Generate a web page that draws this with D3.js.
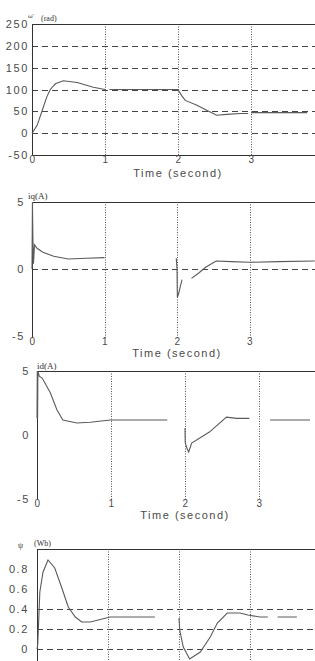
<!DOCTYPE html>
<html>
<head>
<meta charset="utf-8">
<script src="https://cdn.jsdelivr.net/npm/d3@7"></script>
<style>
  body { margin: 0; background: #fff; }
  svg { display: block; }
  text { font-family: "Liberation Sans", Arial, sans-serif; fill: #4a4a4a; }
  .tick-label { font-size: 11px; letter-spacing: 1.6px; }
  .x-tick { font-size: 10px; letter-spacing: 1.6px; }
  .x-title { font-size: 11px; letter-spacing: 1.5px; }
  .unit { font-family: "Liberation Serif", serif; font-size: 9px; fill: #333; }
</style>
</head>
<body>
<div id="canvas"></div>
<script>
// time axis ticks (seconds)
var timeTicks = [0, 1, 2, 3];

// rotor speed  w' (rad)
var omegaT = [0, 0.01, 0.07, 0.14, 0.2, 0.25, 0.32, 0.43, 0.62, 0.84, 1.0, 1.03, 1.06, 2.0, 2.05, 2.1, 2.26, 2.4, 2.53, 2.67, 2.85, 2.96, 2.98, 3.0, 3.77];
var omegaV = [0, 2, 18, 52, 82, 100, 113, 120, 116, 105, 100, null, 100, 100, 86, 75, 64, 52, 41, 43, 45, 45, null, 47, 47];
var omegaTicks = [-50, 0, 50, 100, 150, 200, 250];

// q-axis current iq (A)
var iqT = [0, 0.006, 0.012, 0.02, 0.035, 0.07, 0.15, 0.3, 0.5, 0.75, 1.0, 1.5, 1.99, 2.0, 2.005, 2.02, 2.05, 2.07, 2.13, 2.2, 2.3, 2.4, 2.54, 2.75, 3.0, 3.4, 3.9];
var iqV = [0, 5, 2.5, 0.4, 1.8, 1.55, 1.25, 0.95, 0.75, 0.8, 0.85, null, 0.8, 0, -2.1, -1.9, -1.2, -0.8, null, -0.7, -0.3, 0.15, 0.6, 0.55, 0.5, 0.55, 0.6];
var iqTicks = [-5, 0, 5];

// d-axis current id (A)
var idT = [0, 0.004, 0.008, 0.012, 0.03, 0.07, 0.18, 0.27, 0.35, 0.54, 0.72, 0.99, 1.76, 1.88, 2.0, 2.003, 2.03, 2.05, 2.09, 2.33, 2.56, 2.7, 2.87, 3.0, 3.15, 3.69];
var idV = [1.3, 5, 1.3, 5, 4.6, 4.45, 3.3, 1.95, 1.17, 0.94, 1.0, 1.17, 1.17, null, 0.55, -0.6, -1.1, -1.33, -0.63, 0.23, 1.4, 1.3, 1.3, null, 1.17, 1.17];
var idTicks = [-5, 0, 5];

// flux linkage psi (Wb)
var psiT = [0, 0.01, 0.04, 0.085, 0.155, 0.25, 0.35, 0.44, 0.54, 0.63, 0.75, 1.03, 1.13, 1.66, 1.8, 2.0, 2.01, 2.06, 2.15, 2.3, 2.44, 2.54, 2.68, 2.86, 2.97, 3.14, 3.25, 3.32, 3.39, 3.66];
var psiV = [0, 0.04, 0.57, 0.77, 0.89, 0.81, 0.61, 0.42, 0.32, 0.27, 0.27, 0.32, 0.32, 0.32, null, 0.31, 0.19, 0.02, -0.1, -0.03, 0.12, 0.26, 0.36, 0.36, 0.34, 0.32, 0.32, null, 0.32, 0.32];
var psiTicks = [0, 0.2, 0.4, 0.6, 0.8];
var psiTickLabels = ["0", "0.2", "0.4", "0.6", "0.8"];

var svg = d3.select("#canvas")
  .append("svg")
  .attr("width", 315)
  .attr("height", 661);

function drawPanel(p) {
  var x = d3.scaleLinear().domain([0, 4]).range([p.left, p.left + 4 * p.pxPerSec]);
  var y = d3.scaleLinear().domain(p.yDomain).range(p.yRange);
  var g = svg.append("g");
  var x0 = x(0), x1 = x(4);
  var yTop = y(p.yDomain[1]), yBot = y(p.yDomain[0]);

  // horizontal dashed grid
  g.selectAll(".hgrid")
    .data(p.hGrid)
    .enter().append("line")
    .attr("x1", x0).attr("x2", x1)
    .attr("y1", d => Math.round(y(d)) + 0.5).attr("y2", d => Math.round(y(d)) + 0.5)
    .attr("stroke", "#444").attr("stroke-width", 1)
    .attr("stroke-dasharray", "6,4");

  // vertical dotted grid
  g.selectAll(".vgrid")
    .data([1, 2, 3])
    .enter().append("line")
    .attr("x1", d => Math.round(x(d)) + 0.5).attr("x2", d => Math.round(x(d)) + 0.5)
    .attr("y1", yTop).attr("y2", p.vBottom)
    .attr("stroke", "#555").attr("stroke-width", 1)
    .attr("stroke-dasharray", "1,1.5");

  // frame: top and left (bottom only where drawn)
  g.append("line")
    .attr("x1", x0).attr("x2", x1)
    .attr("y1", Math.round(yTop) + 0.5).attr("y2", Math.round(yTop) + 0.5)
    .attr("stroke", "#333");
  g.append("line")
    .attr("x1", Math.round(x0) + 0.5).attr("x2", Math.round(x0) + 0.5)
    .attr("y1", yTop).attr("y2", p.vBottom)
    .attr("stroke", "#333");
  if (p.bottomLine) {
    g.append("line")
      .attr("x1", x0).attr("x2", x1)
      .attr("y1", Math.round(yBot) + 0.5).attr("y2", Math.round(yBot) + 0.5)
      .attr("stroke", "#333");
  }

  // y tick labels
  g.selectAll(".ylab")
    .data(p.yTicks)
    .enter().append("text")
    .attr("class", "tick-label")
    .attr("x", p.yLabelX)
    .attr("y", d => y(d) + 4)
    .attr("text-anchor", "end")
    .text((d, i) => p.yTickLabels ? p.yTickLabels[i] : d);

  // x tick labels
  if (p.xLabelY) {
    g.selectAll(".xlab")
      .data(timeTicks)
      .enter().append("text")
      .attr("class", "x-tick")
      .attr("x", d => x(d) + 1)
      .attr("y", p.xLabelY)
      .attr("text-anchor", "middle")
      .text(d => d);
    g.append("text")
      .attr("class", "x-title")
      .attr("x", x(2))
      .attr("y", p.xTitleY)
      .attr("text-anchor", "middle")
      .text("Time (second)");
  }

  // quantity label
  p.units.forEach(function (u) {
    g.append("text")
      .attr("class", "unit")
      .attr("x", u.x).attr("y", u.y)
      .style("font-size", u.size + "px")
      .text(u.text);
  });

  // response curve
  var pts = p.t.map((t, i) => ({t: t, v: p.v[i]}));
  var line = d3.line()
    .defined(d => d.v !== null)
    .x(d => x(d.t))
    .y(d => y(d.v));
  g.append("path")
    .datum(pts)
    .attr("fill", "none")
    .attr("stroke", "#5a5a5a")
    .attr("stroke-width", 1.1)
    .attr("d", line);
}

drawPanel({
  t: omegaT, v: omegaV,
  left: 32, pxPerSec: 73,
  yDomain: [-50, 250], yRange: [155, 24],
  yTicks: omegaTicks, hGrid: [0, 50, 100, 150, 200],
  yLabelX: 29, xLabelY: 163, xTitleY: 177,
  vBottom: 155, bottomLine: true,
  units: [{text: "\u03c9'", x: 28, y: 18, size: 7}, {text: "(rad)", x: 41, y: 21, size: 8}]
});

drawPanel({
  t: iqT, v: iqV,
  left: 32, pxPerSec: 72.5,
  yDomain: [-5, 5], yRange: [336, 202],
  yTicks: iqTicks, hGrid: [0],
  yLabelX: 25, xLabelY: 345, xTitleY: 357,
  vBottom: 338, bottomLine: false,
  units: [{text: "iq(A)", x: 28, y: 199, size: 9}]
});

drawPanel({
  t: idT, v: idV,
  left: 37, pxPerSec: 74,
  yDomain: [-5, 5], yRange: [499, 371],
  yTicks: idTicks, hGrid: [],
  yLabelX: 30, xLabelY: 507, xTitleY: 519,
  vBottom: 499, bottomLine: false,
  units: [{text: "id(A)", x: 37, y: 369, size: 9}]
});

drawPanel({
  t: psiT, v: psiV,
  left: 37, pxPerSec: 71,
  yDomain: [-0.2, 1.0], yRange: [669, 549],
  yTicks: psiTicks, yTickLabels: psiTickLabels, hGrid: [0, 0.2, 0.4],
  yLabelX: 29, xLabelY: null,
  vBottom: 669, bottomLine: false,
  units: [{text: "\u03c8", x: 18, y: 548, size: 8}, {text: "(Wb)", x: 34, y: 546, size: 8}]
});
</script>
</body>
</html>
